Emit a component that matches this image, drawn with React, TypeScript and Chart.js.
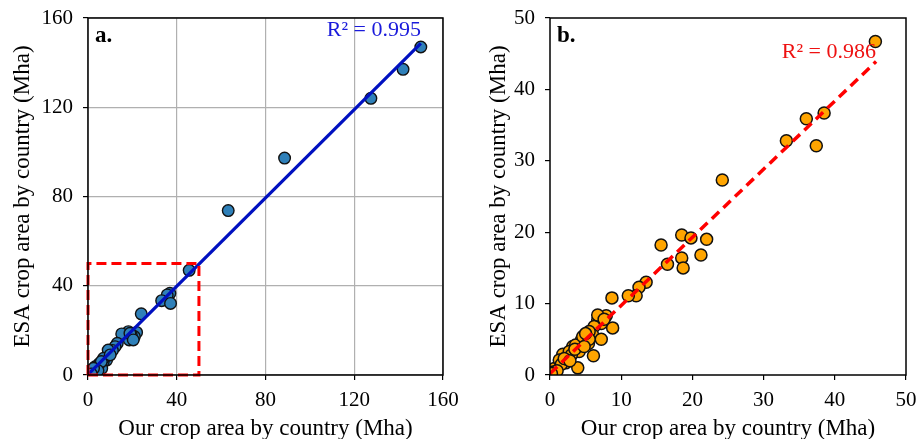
import React, { useEffect, useRef } from "react";
import { Chart, registerables } from "chart.js";

Chart.register(...registerables);

// ---- data ----
const ticksA = [0, 40, 80, 120, 160];
const ticksB = [0, 10, 20, 30, 40, 50];

const ourA = [150, 142, 127.5, 88.6, 63.2, 45.6, 36.9, 35.7, 33.2, 37.2, 24, 21.9, 20.9, 18.6, 18.2, 15.2, 13.2, 12.2, 11, 9.1, 8.4, 6.9, 6.2, 3.2, 5, 4, 3, 2, 1, 7, 6, 4.5, 2.5, 1.5, 19.5, 10, 18.9, 20.4];
const esaA = [147, 137, 124, 97.2, 73.7, 46.9, 36.6, 35.9, 33.3, 32.1, 27.4, 19.1, 17.2, 15.7, 19.4, 18.4, 14.2, 12.7, 11, 11.2, 6.7, 6, 3, 3.7, 5, 3.5, 2.5, 1.5, 1, 7.5, 6, 2, 3, 0.5, 18, 9, 18.7, 15.7];

const ourB = [45.7, 38.5, 36.0, 33.2, 37.4, 24.2, 18.5, 19.8, 22, 15.6, 18.5, 21.2, 16.5, 18.7, 13.5, 12.5, 12.1, 11.0, 8.7, 7.9, 6.7, 7.2, 8.8, 6.2, 6.0, 7.2, 5.5, 4.4, 5.4, 6.1, 4.1, 3.9, 3.2, 2.2, 1.8, 2.7, 1.1, 0.6, 1.3, 3.6, 4.6, 5.5, 6.7, 7.6, 0.3, 0.8, 1.6, 2.4, 3.0, 1.0, 2.0, 2.8, 3.5, 4.8, 5.0, 0.2];
const esaB = [46.7, 36.7, 35.9, 32.8, 32.1, 27.3, 19.6, 19.2, 19.0, 18.2, 16.4, 16.8, 15.5, 15.0, 13.0, 12.3, 11.1, 11.1, 10.8, 8.3, 7.7, 7.2, 6.6, 6.8, 5.6, 5.0, 6.1, 4.9, 4.4, 2.7, 3.3, 1.0, 4.0, 1.7, 2.9, 3.3, 1.2, 0.9, 2.1, 4.2, 5.4, 5.0, 8.4, 7.8, 0.4, 0.5, 1.5, 2.2, 2.8, 0.6, 2.3, 2.0, 3.6, 4.0, 5.8, 0.2];

const fitAX = [0, 150];
const fitAY = [0.2, 148.6];
const fitBX = [0, 45.8];
const fitBY = [0.2, 43.9];
const boxX = [0, 50, 50, 0, 0];
const boxY = [0, 0, 50, 50, 0];

const FONT = "'Liberation Serif', 'Times New Roman', serif";

const zip = (xs: number[], ys: number[]) => xs.map((x, i) => ({ x, y: ys[i] }));

function makeOptions(ticks: number[], grid: boolean, yTitlePad: number, label: string, r2: string, r2Color: string, r2X: number, r2Y: number) {
  const axis = (isX: boolean) => ({
    type: "linear" as const,
    min: ticks[0],
    max: ticks[ticks.length - 1],
    afterBuildTicks: (s: any) => {
      s.ticks = ticks.map((v) => ({ value: v }));
    },
    ticks: { color: "#000", font: { family: FONT, size: 21 }, padding: isX ? 8 : 10 },
    grid: {
      display: true,
      drawOnChartArea: grid,
      color: "#b0b0b0",
      lineWidth: 1.2,
      tickColor: "#000",
      tickLength: 5,
      tickWidth: 1.2,
    },
    border: { display: false },
    title: {
      display: true,
      text: isX ? "Our crop area by country (Mha)" : "ESA crop area by country (Mha)",
      color: "#000",
      font: { family: FONT, size: 23, lineHeight: isX ? 0.9 : 1.1 },
      padding: isX ? { top: 0, bottom: 0 } : { top: yTitlePad, bottom: 0 },
    },
    afterFit: (s: any) => {
      if (isX) s.height = 64;
    },
  });
  return {
    animation: false as const,
    responsive: false,
    maintainAspectRatio: false,
    layout: { padding: { top: 23, right: 0, left: 0, bottom: 0 } },
    plugins: {
      legend: { display: false },
      tooltip: { enabled: false },
      annot: { label, r2, r2Color, r2X, r2Y },
    },
    scales: { x: axis(true), y: axis(false) },
  };
}

const annotPlugin = {
  id: "annot",
  afterDraw(chart: any, _args: any, opts: any) {
    const { ctx, chartArea } = chart;
    ctx.save();
    ctx.strokeStyle = "#000";
    ctx.lineWidth = 1.5;
    ctx.strokeRect(chartArea.left, chartArea.top, chartArea.right - chartArea.left, chartArea.bottom - chartArea.top);
    ctx.fillStyle = "#000";
    ctx.font = `bold 23px ${FONT}`;
    ctx.textBaseline = "middle";
    ctx.textAlign = "left";
    ctx.fillText(opts.label, chartArea.left + 7, chartArea.top + 18);
    ctx.fillStyle = opts.r2Color;
    ctx.font = `22px ${FONT}`;
    ctx.textAlign = "right";
    ctx.fillText(opts.r2, chartArea.left + opts.r2X, chartArea.top + opts.r2Y);
    ctx.restore();
  },
};

function ScatterPanel(props: { which: "a" | "b"; left: number; width: number; yWidth: number; rightPad: number }) {
  const ref = useRef<HTMLCanvasElement | null>(null);
  useEffect(() => {
    if (!ref.current) return;
    const isA = props.which === "a";
    const datasets: any[] = [];
    if (isA) {
      datasets.push({
        type: "line",
        data: zip(boxX, boxY),
        borderColor: "#ff0000",
        borderWidth: 3,
        borderDash: [10, 5],
        pointRadius: 0,
        fill: false,
        order: 0,
        clip: false,
      });
      datasets.push({
        type: "line",
        data: zip(fitAX, fitAY),
        borderColor: "#0010c0",
        borderWidth: 3.2,
        pointRadius: 0,
        fill: false,
        order: 0,
      });
      datasets.push({
        type: "scatter",
        data: zip(ourA, esaA),
        backgroundColor: "#2f80b9",
        borderColor: "#111",
        borderWidth: 1.4,
        pointRadius: 5.8,
        order: 1,
      });
    } else {
      datasets.push({
        type: "line",
        data: zip(fitBX, fitBY),
        borderColor: "#ff0000",
        borderWidth: 3.5,
        borderDash: [10, 6],
        pointRadius: 0,
        fill: false,
        order: 0,
      });
      datasets.push({
        type: "scatter",
        data: zip(ourB, esaB),
        backgroundColor: "#ffa500",
        borderColor: "#111",
        borderWidth: 1.5,
        pointRadius: 6,
        order: 1,
      });
    }
    const opts: any = isA
      ? makeOptions(ticksA, true, 10, "a.", "R² = 0.995", "#1a1adb", 333, 12)
      : makeOptions(ticksB, false, 26, "b.", "R² = 0.986", "#ee1111", 326, 34);
    opts.layout.padding.right = props.rightPad;
    opts.scales.y.afterFit = (s: any) => {
      s.width = props.yWidth;
    };
    const chart = new Chart(ref.current, {
      type: "scatter",
      data: { datasets },
      options: opts,
      plugins: [annotPlugin],
    } as any);
    return () => chart.destroy();
  }, []);
  return (
    <canvas
      ref={ref}
      width={props.width}
      height={444}
      style={{ position: "absolute", left: props.left, top: -5, width: props.width, height: 444 }}
    />
  );
}

export default function App() {
  return (
    <div style={{ position: "fixed", left: 0, top: 0, width: 921, height: 439, background: "#fff", overflow: "hidden" }}>
      <ScatterPanel which="a" left={0} width={472} yWidth={88} rightPad={29} />
      <ScatterPanel which="b" left={460} width={472} yWidth={90} rightPad={26} />
    </div>
  );
}
